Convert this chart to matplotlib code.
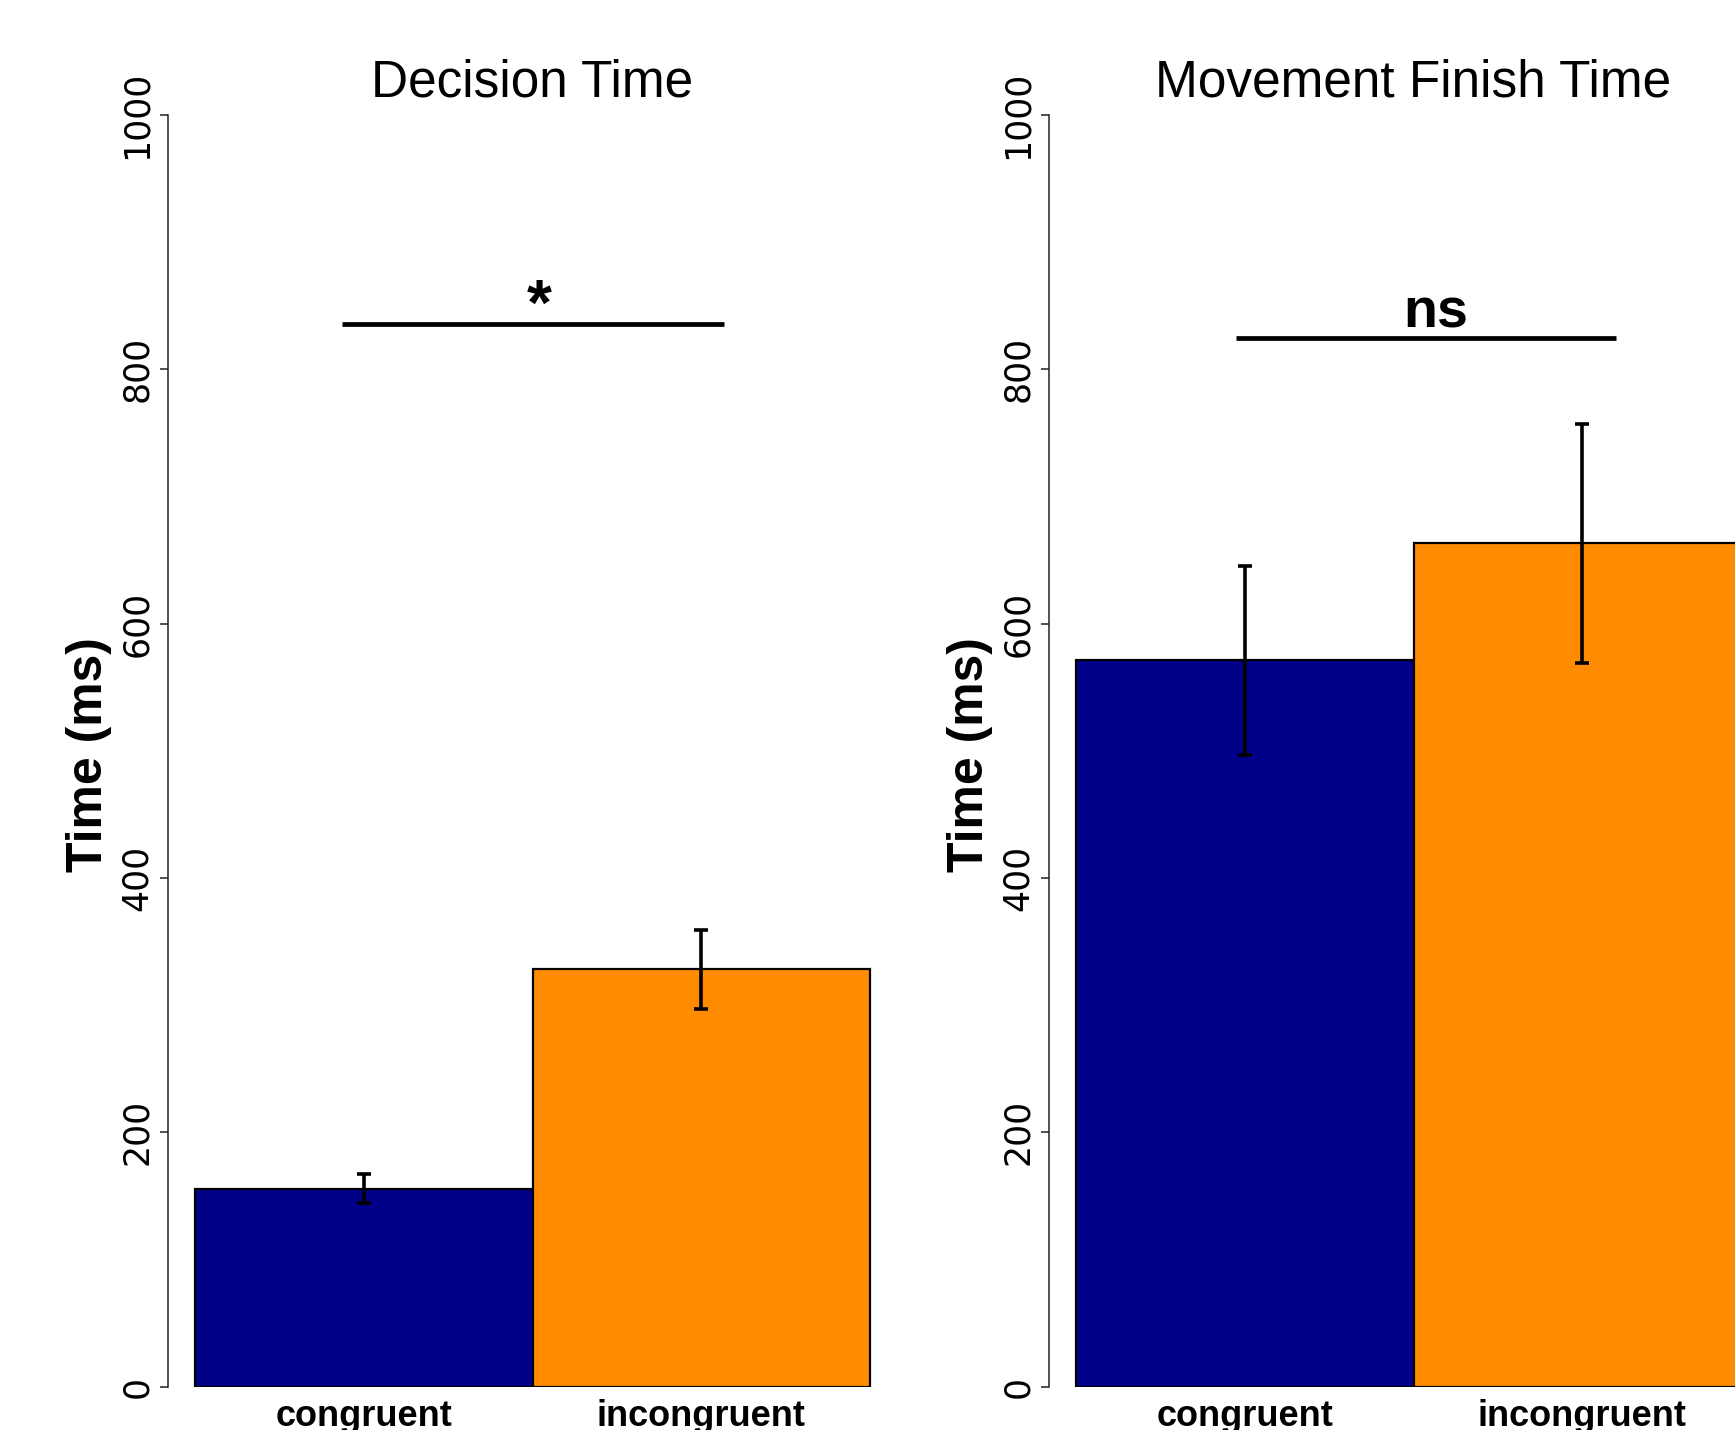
import matplotlib
matplotlib.use("Agg")
import matplotlib.pyplot as plt
import matplotlib.transforms as mtransforms

# ---- data ----
titles = ["Decision Time", "Movement Finish Time"]
categories = ["congruent", "incongruent"]
means_decision = [155, 328]
err_low_decision = [144, 297]
err_high_decision = [167, 359]
means_finish = [571, 663]
err_low_finish = [497, 569]
err_high_finish = [645, 757]
sig_labels = ["*", "ns"]
sig_values = [836, 825]
y_ticks = [0, 200, 400, 600, 800, 1000]
bar_colors = ["#000088", "#FF8C00"]

SANS = ["Liberation Sans", "DejaVu Sans"]

W, H = 1735, 1430
fig = plt.figure(figsize=(W / 100, H / 100), dpi=100)

panels = [
    (titles[0], means_decision, err_low_decision, err_high_decision, sig_labels[0], sig_values[0]),
    (titles[1], means_finish, err_low_finish, err_high_finish, sig_labels[1], sig_values[1]),
]
ax_lefts = [168, 1049]
ax_w = 729
ax_bottom = 1386.5
ax_top = 115
sig_spans = [(0.436, 1.567), (0.474, 1.601)]
sig_text_pos = [(1.02, 835, 46), (1.065, 833, 40)]

for i, (title, means, lo, hi, sig, sigv) in enumerate(panels):
    ax = fig.add_axes([ax_lefts[i] / W, (H - ax_bottom) / H, ax_w / W, (ax_bottom - ax_top) / H])
    xs = [0.5, 1.5]
    ax.bar(xs, means, width=1.0, color=bar_colors, edgecolor="black", linewidth=1.6, zorder=2)
    yerr = [[m - l for m, l in zip(means, lo)], [h - m for m, h in zip(means, hi)]]
    ax.errorbar(xs, means, yerr=yerr, fmt="none", ecolor="black", elinewidth=2.6,
                capsize=4.7, capthick=2.6, zorder=3)
    ax.set_xlim(-0.08, 2.08)
    ax.set_ylim(0, 1000)
    for s in ["top", "right", "bottom"]:
        ax.spines[s].set_visible(False)
    ax.spines["left"].set_bounds(0, 1000)
    ax.spines["left"].set_linewidth(1.1)
    ax.spines["left"].set_color("#222222")
    ax.set_yticks(y_ticks)
    ax.set_yticklabels([str(t) for t in y_ticks], rotation=90, va="center",
                       fontsize=25, family="DejaVu Sans")
    shift = mtransforms.ScaledTranslation(0, 3.2 / 72, fig.dpi_scale_trans)
    for lbl in ax.get_yticklabels():
        lbl.set_transform(lbl.get_transform() + shift)
    ax.tick_params(axis="y", length=6, width=1.1, color="#222222", pad=4)
    ax.set_xticks(xs)
    ax.set_xticklabels(categories, fontsize=26, fontweight="bold", family=SANS)
    ax.tick_params(axis="x", length=0, pad=9)
    ax.set_title(title, fontsize=37, family=SANS, pad=13)
    trans = mtransforms.blended_transform_factory(ax.transAxes, ax.transData)
    ax.text((89 - ax_lefts[0]) / ax_w, 497, "Time (ms)", rotation=90, ha="center", va="center",
            fontsize=36, fontweight="bold", family=SANS, transform=trans, clip_on=False)
    x0, x1 = sig_spans[i]
    ax.plot([x0, x1], [sigv, sigv], color="black", linewidth=3.4, solid_capstyle="butt",
            clip_on=False, zorder=3)
    tx, ty, tfs = sig_text_pos[i]
    ax.text(tx, ty, sig, ha="center", va="baseline", fontsize=tfs, fontweight="bold",
            family=SANS, clip_on=False)

fig.savefig("out.png", dpi=100)
